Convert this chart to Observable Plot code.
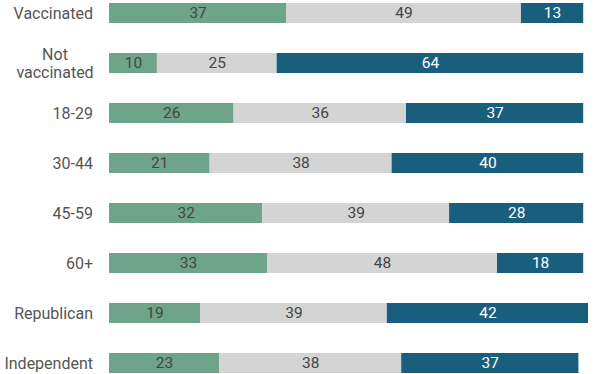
<!DOCTYPE html>
<html>
<head>
<meta charset="utf-8">
<script src="https://cdn.jsdelivr.net/npm/d3@7"></script>
<script src="https://cdn.jsdelivr.net/npm/@observablehq/plot@0.6"></script>
<style>
  html, body { margin: 0; padding: 0; background: white; overflow: hidden; }
  #chart svg { display: block; }
</style>
</head>
<body>
<div id="chart"></div>
<script>
const categories = ["Vaccinated", "Not vaccinated", "18-29", "30-44", "45-59", "60+", "Republican", "Independent"];
const labelLines = ["Vaccinated", "Not\nvaccinated", "18-29", "30-44", "45-59", "60+", "Republican", "Independent"];
const seriesNames = ["first", "second", "third"];
const firstValues = [37, 10, 26, 21, 32, 33, 19, 23];
const secondValues = [49, 25, 36, 38, 39, 48, 39, 38];
const thirdValues = [13, 64, 37, 40, 28, 18, 42, 37];
const gridTicks = [0, 25, 50, 75, 100];
const colors = ["#6ea58a", "#d4d4d4", "#1a5e7e"];

const seriesValues = [firstValues, secondValues, thirdValues];
const rows = [];
categories.forEach((c, i) => {
  seriesNames.forEach((s, j) => {
    rows.push({category: c, series: s, value: seriesValues[j][i]});
  });
});
const labels = categories.map((c, i) => ({category: c, text: labelLines[i], multi: labelLines[i].includes("\n")}));

const chart = Plot.plot({
  width: 612,
  height: 374,
  marginLeft: 109,
  marginRight: 24,
  marginTop: 0,
  marginBottom: 0,
  style: {fontFamily: "Roboto, sans-serif", background: "white"},
  x: {domain: [0, 100], axis: null},
  y: {type: "band", domain: categories, range: [0, 376], paddingInner: 0.607, paddingOuter: 0, axis: null},
  color: {domain: seriesNames, range: colors},
  marks: [
    Plot.ruleX(gridTicks, {stroke: "#dddddd", strokeWidth: 1, y1: 0, y2: 374}),
    Plot.barX(rows, Plot.stackX({x: "value", y: "category", fill: "series"})),
    Plot.text(rows, Plot.stackX({
      x: "value", y: "category", z: "series", text: d => String(d.value),
      fill: d => d.series === "third" ? "white" : "#444444",
      fontSize: 15.5
    })),
    Plot.text(labels.filter(d => !d.multi), {
      x: 0, y: "category", text: "text", textAnchor: "end", dx: -16.5,
      fill: "#555555", fontSize: 16
    }),
    Plot.text(labels.filter(d => d.multi), {
      x: 0, y: "category", text: "text", textAnchor: "middle", dx: -54.5,
      fill: "#555555", fontSize: 16, lineHeight: 1.08
    })
  ]
});
document.getElementById("chart").appendChild(chart);
</script>
</body>
</html>
